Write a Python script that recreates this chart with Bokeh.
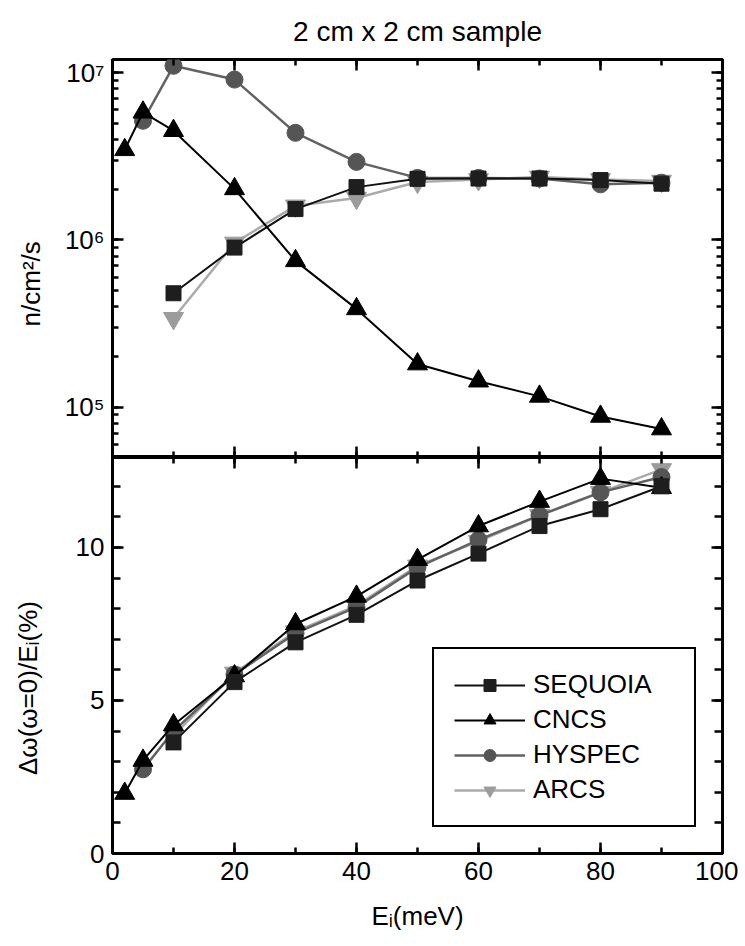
from bokeh.plotting import figure
from bokeh.layouts import column
from bokeh.models import (LinearAxis, LogAxis, Range1d, SingleIntervalTicker, LogTicker,
                          CustomJSTickFormatter, Legend, LegendItem)
from bokeh.embed import file_html
from bokeh.resources import INLINE

FONT = "Liberation Sans"

# ---------------- data ----------------
seq_e = [10, 20, 30, 40, 50, 60, 70, 80, 90]
seq_flux = [4.8e5, 9.0e5, 1.53e6, 2.07e6, 2.32e6, 2.33e6, 2.33e6, 2.28e6, 2.17e6]
seq_res = [3.63, 5.6, 6.9, 7.8, 8.92, 9.8, 10.7, 11.25, 12.0]

cncs_e = [2, 5, 10, 20, 30, 40, 50, 60, 70, 80, 90]
cncs_flux = [3.46e6, 5.8e6, 4.5e6, 2.02e6, 7.5e5, 3.87e5, 1.81e5, 1.43e5, 1.16e5, 8.8e4, 7.4e4]
cncs_res = [1.96, 3.04, 4.2, 5.8, 7.5, 8.4, 9.6, 10.7, 11.5, 12.25, 11.95]

hys_e = [5, 10, 20, 30, 40, 50, 60, 70, 80, 90]
hys_flux = [5.16e6, 1.1e7, 9.1e6, 4.37e6, 2.93e6, 2.35e6, 2.35e6, 2.33e6, 2.15e6, 2.2e6]
hys_res = [2.75, 4.0, 5.85, 7.2, 8.05, 9.35, 10.25, 11.05, 11.8, 12.3]

arcs_e = [10, 20, 30, 40, 50, 60, 70, 80, 90]
arcs_flux = [3.4e5, 9.6e5, 1.6e6, 1.78e6, 2.22e6, 2.3e6, 2.38e6, 2.3e6, 2.25e6]
arcs_res = [3.85, 5.9, 7.25, 8.1, 9.4, 10.2, 11.05, 11.8, 12.55]

names = ["SEQUOIA", "CNCS", "HYSPEC", "ARCS"]
x_ticks_interval = 20
title_text = "2 cm x 2 cm sample"
top_ylabel = "n/cm\u00b2/s"
bot_ylabel = "\u0394\u03c9(\u03c9=0)/E\u1d62(%)"
xlabel = "E\u1d62(meV)"
NBSP = "\u00a0"

styles = {
    "SEQUOIA": dict(marker="square", size=15, mcolor="#1e1e1e", lcolor="#111111", lw=2),
    "CNCS": dict(marker="triangle", size=20, mcolor="#000000", lcolor="#000000", lw=2),
    "HYSPEC": dict(marker="circle", size=17, mcolor="#555555", lcolor="#626262", lw=2.5),
    "ARCS": dict(marker="inverted_triangle", size=20, mcolor="#9c9c9c", lcolor="#ababab", lw=2.5),
}

blank_fmt = CustomJSTickFormatter(code="return '';")


def style_axis(ax, labels=True):
    ax.axis_line_color = None
    ax.major_tick_in = 11
    ax.major_tick_out = 0
    ax.minor_tick_in = 6
    ax.minor_tick_out = 0
    ax.major_tick_line_width = 2.5
    ax.minor_tick_line_width = 2.5
    ax.major_tick_line_color = "black"
    ax.minor_tick_line_color = "black"
    ax.major_label_text_font = FONT
    ax.major_label_text_font_size = "26px"
    ax.major_label_text_color = "black"
    ax.axis_label_text_font = FONT
    ax.axis_label_text_font_size = "26px"
    ax.axis_label_text_font_style = "normal"
    ax.axis_label_text_color = "black"
    if not labels:
        ax.formatter = blank_fmt
        ax.major_label_text_font_size = "1px"
        ax.major_label_standoff = 0


sup_fmt = CustomJSTickFormatter(code="""
const s = {"0":"\u2070","1":"\u00b9","2":"\u00b2","3":"\u00b3","4":"\u2074","5":"\u2075",
           "6":"\u2076","7":"\u2077","8":"\u2078","9":"\u2079","-":"\u207b"};
const e = Math.round(Math.log10(tick));
return "10" + String(e).split("").map(c => s[c]).join("");
""")

# ---------------- top panel ----------------
top = figure(width=738, height=457, x_range=Range1d(0, 100), y_range=Range1d(5.0e4, 1.2e7),
             y_axis_type="log", x_axis_location=None, y_axis_location=None,
             output_backend="svg", toolbar_location=None,
             min_border_left=112, min_border_right=16, min_border_top=59, min_border_bottom=0)
top.outline_line_color = "black"
top.outline_line_width = 3
top.xgrid.grid_line_color = None
top.ygrid.grid_line_color = None
top.title.text = title_text
top.title.align = "center"
top.title.text_font = FONT
top.title.text_font_size = "28px"
top.title.text_font_style = "normal"
top.title.text_color = "black"
top.title.standoff = 26

xt = SingleIntervalTicker(interval=x_ticks_interval, num_minor_ticks=2)
for loc in ("below", "above"):
    ax = LinearAxis(ticker=xt)
    style_axis(ax, labels=False)
    top.add_layout(ax, loc)
# trailing no-break spaces push the (rotated) label down, as in the reference
ly = LogAxis(ticker=LogTicker(num_minor_ticks=10), formatter=sup_fmt,
             axis_label=top_ylabel + NBSP * 7)
style_axis(ly)
ly.major_label_standoff = 8
ly.axis_label_standoff = 16
top.add_layout(ly, "left")
ry = LogAxis(ticker=LogTicker(num_minor_ticks=10))
style_axis(ry, labels=False)
top.add_layout(ry, "right")

flux = {"SEQUOIA": (seq_e, seq_flux), "CNCS": (cncs_e, cncs_flux),
        "HYSPEC": (hys_e, hys_flux), "ARCS": (arcs_e, arcs_flux)}
for n in ["ARCS", "HYSPEC", "SEQUOIA", "CNCS"]:
    st = styles[n]
    xs, ys = flux[n]
    top.line(xs, ys, line_color=st["lcolor"], line_width=st["lw"])
    top.scatter(xs, ys, marker=st["marker"], size=st["size"], fill_color=st["mcolor"],
                line_color=st["mcolor"])

# ---------------- bottom panel ----------------
bot = figure(width=738, height=486, x_range=Range1d(0, 100), y_range=Range1d(0, 12.94),
             x_axis_location=None, y_axis_location=None,
             output_backend="svg", toolbar_location=None,
             min_border_left=112, min_border_right=16, min_border_top=0, min_border_bottom=90)
bot.outline_line_color = "black"
bot.outline_line_width = 3
bot.xgrid.grid_line_color = None
bot.ygrid.grid_line_color = None

bx = LinearAxis(ticker=xt, axis_label=xlabel)
style_axis(bx)
bx.major_label_standoff = 8
bx.axis_label_standoff = 18
bot.add_layout(bx, "below")
tx = LinearAxis(ticker=xt)
style_axis(tx, labels=False)
bot.add_layout(tx, "above")
yt = SingleIntervalTicker(interval=5, num_minor_ticks=5)
by = LinearAxis(ticker=yt, axis_label=bot_ylabel + NBSP * 9)
style_axis(by)
by.major_label_standoff = 8
by.axis_label_standoff = 30
by.minor_tick_in = 8
bot.add_layout(by, "left")
rby = LinearAxis(ticker=yt)
style_axis(rby, labels=False)
rby.minor_tick_in = 8
bot.add_layout(rby, "right")

res = {"SEQUOIA": (seq_e, seq_res), "CNCS": (cncs_e, cncs_res),
       "HYSPEC": (hys_e, hys_res), "ARCS": (arcs_e, arcs_res)}
rend = {}
for n in ["ARCS", "HYSPEC", "CNCS", "SEQUOIA"]:
    st = styles[n]
    xs, ys = res[n]
    l = bot.line(xs, ys, line_color=st["lcolor"], line_width=st["lw"])
    s = bot.scatter(xs, ys, marker=st["marker"], size=st["size"], fill_color=st["mcolor"],
                    line_color=st["mcolor"])
    rend[n] = [l, s]

legend = Legend(items=[LegendItem(label=n, renderers=rend[n]) for n in names],
                location=(320, 26), margin=0, padding=20, spacing=4,
                glyph_width=71, glyph_height=30, label_height=30, label_width=141,
                label_standoff=8,
                label_text_font=FONT, label_text_font_size="26px", label_text_color="black",
                border_line_color="black", border_line_width=2, border_line_alpha=1.0,
                background_fill_color="white", background_fill_alpha=1.0)
bot.add_layout(legend)

layout = column(top, bot, spacing=0)
open("out.html", "w").write(file_html(layout, INLINE))
